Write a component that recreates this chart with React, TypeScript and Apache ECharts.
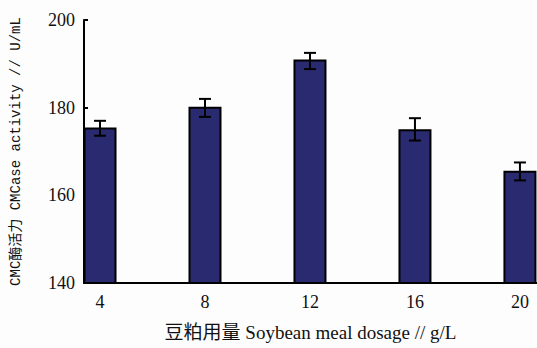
import React, { useEffect, useRef } from "react";
import * as echarts from "echarts";

// Soybean meal dosage (g/L) and CMCase activity (U/mL)
const dosages = [4, 8, 12, 16, 20];
const activity = [175.5, 180.2, 191.0, 175.1, 165.6];
const errLow = [173.6, 177.9, 188.8, 172.5, 163.4];
const errHigh = [177.0, 182.0, 192.5, 177.6, 167.5];
const yTicks = [140, 160, 180, 200];

const serif = "'Liberation Serif', 'Times New Roman', 'Noto Sans CJK SC', serif";

export default function App() {
  const ref = useRef<HTMLDivElement>(null);

  useEffect(() => {
    if (!ref.current) return;
    const chart = echarts.init(ref.current, undefined, { renderer: "svg" });

    const barData = dosages.map((d, i) => [d, activity[i]]);
    const errData = dosages.map((d, i) => [d, errLow[i], errHigh[i]]);

    chart.setOption({
      animation: false,
      backgroundColor: "#fdfdfd",
      grid: { left: 84, right: 0, top: 20, bottom: 65 },
      xAxis: {
        type: "value",
        min: 3.39,
        max: 20.65,
        name: "豆粕用量 Soybean meal dosage // g/L",
        nameLocation: "middle",
        nameGap: 40,
        nameTextStyle: { fontFamily: serif, fontSize: 19, color: "#111" },
        axisLine: { show: true, lineStyle: { color: "#000", width: 2 } },
        axisTick: { show: false },
        splitLine: { show: false },
        axisLabel: {
          customValues: dosages,
          fontFamily: serif,
          fontSize: 18,
          color: "#111",
          margin: 10,
        },
      },
      yAxis: {
        type: "value",
        min: yTicks[0],
        max: yTicks[yTicks.length - 1],
        interval: 20,
        name: "CMC酶活力 CMCase activity // U/mL",
        nameLocation: "middle",
        nameGap: 61,
        nameTextStyle: {
          fontFamily: "'Liberation Mono', 'Noto Sans CJK SC', monospace",
          fontSize: 14,
          color: "#111",
        },
        axisLine: { show: true, lineStyle: { color: "#000", width: 2 } },
        axisTick: { show: true, inside: true, length: 4, lineStyle: { color: "#000", width: 2 } },
        splitLine: { show: false },
        axisLabel: { fontFamily: serif, fontSize: 18, color: "#111", margin: 9 },
      },
      series: [
        {
          type: "bar",
          data: barData,
          barWidth: 33,
          itemStyle: { color: "#2a2a70", borderColor: "#000", borderWidth: 2 },
          z: 1,
        },
        {
          type: "custom",
          data: errData,
          z: 3,
          renderItem: (_params: any, api: any) => {
            const x = api.value(0);
            const lo = api.coord([x, api.value(1)]);
            const hi = api.coord([x, api.value(2)]);
            const half = 6;
            const style = { stroke: "#000", lineWidth: 2 };
            return {
              type: "group",
              children: [
                { type: "line", shape: { x1: lo[0], y1: lo[1], x2: hi[0], y2: hi[1] }, style },
                { type: "line", shape: { x1: hi[0] - half, y1: hi[1], x2: hi[0] + half, y2: hi[1] }, style },
                { type: "line", shape: { x1: lo[0] - half, y1: lo[1], x2: lo[0] + half, y2: lo[1] }, style },
              ],
            };
          },
        },
      ],
    });

    return () => chart.dispose();
  }, []);

  return (
    <div
      ref={ref}
      style={{ position: "fixed", left: 0, top: 0, width: 537, height: 348 }}
    />
  );
}
